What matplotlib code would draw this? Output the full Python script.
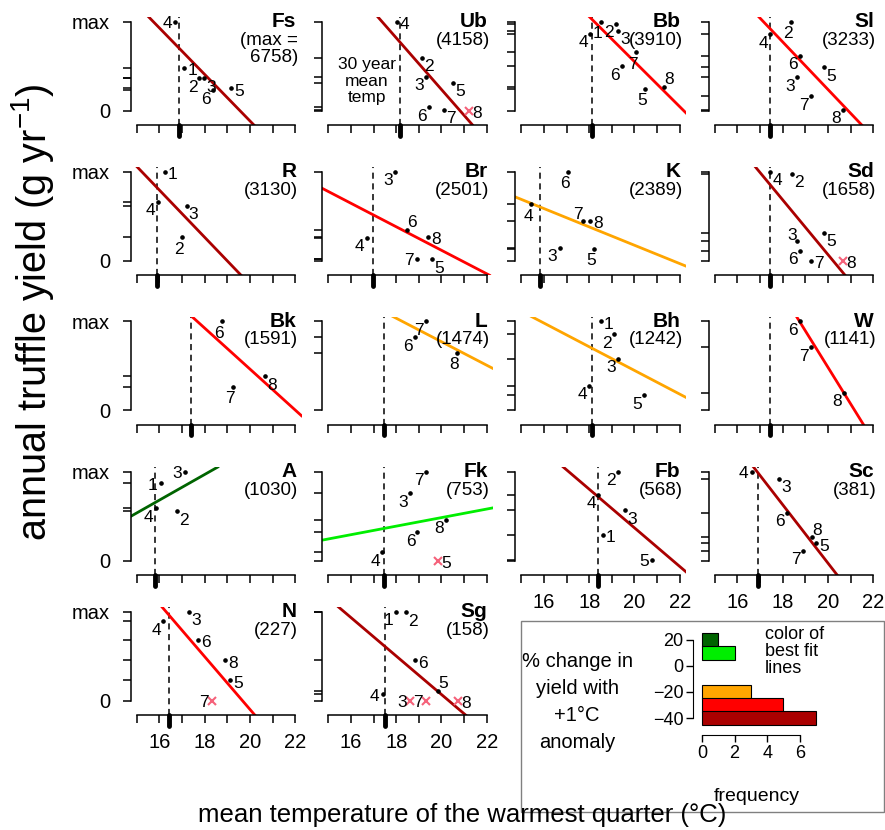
import matplotlib
matplotlib.use("Agg")
import matplotlib.pyplot as plt
from matplotlib.patches import Rectangle

plt.rcParams['font.family'] = ['Liberation Sans', 'DejaVu Sans']
plt.rcParams['mathtext.fontset'] = 'custom'
plt.rcParams['mathtext.rm'] = 'Liberation Sans'
plt.rcParams['mathtext.it'] = 'Liberation Sans:italic'

# panels, read row by row (4 per row)
sites = ['Fs', 'Ub', 'Bb', 'Sl', 'R', 'Br', 'K', 'Sd', 'Bk', 'L', 'Bh', 'W',
         'A', 'Fk', 'Fb', 'Sc', 'N', 'Sg']
site_max = ['(max =\n6758)', '(4158)', '(3910)', '(3233)', '(3130)', '(2501)',
            '(2389)', '(1658)', '(1591)', '(1474)', '(1242)', '(1141)',
            '(1030)', '(753)', '(568)', '(381)', '(227)', '(158)']
mean_temp = [16.87, 18.16, 18.14, 17.44, 15.87, 16.97, 15.84, 17.44, 17.40,
             17.48, 18.14, 17.44, 15.80, 17.48, 18.38, 16.93, 16.40, 17.49]
# best fit line: value at the 30 year mean temp and slope per degree
fit_at_mean = [0.70, 0.77, 1.02, 0.92, 0.825, 0.515, 0.60, 0.853, 1.058,
               1.10, 0.692, 1.53, 0.65, 0.361, 0.719, 0.978, 0.966, 0.61]
fit_slope = [-0.261, -0.29, -0.253, -0.267, -0.265, -0.132, -0.103, -0.307,
             -0.23, -0.132, -0.133, -0.41, 0.144, 0.048, -0.217, -0.328,
             -0.296, -0.216]
# % change class of each fit (+20, +10, -20, -30, -40)
fit_class = [-40, -40, -30, -30, -40, -30, -20, -40, -30, -20, -20, -30,
             20, 10, -40, -40, -30, -40]

# year ids, temperature and relative yield of each point
pt_ids = ['412365', '4235678', '12347685', '2465378', '1432', '368475',
          '647835', '4253678', '687', '768', '12345', '678', '3142',
          '738645', '24315', '436857', '436857', '12654378']
pt_temp = [
    [16.69, 17.09, 17.77, 17.98, 18.35, 19.18],
    [18.02, 19.16, 19.31, 20.50, 19.43, 20.10, 21.24],
    [18.51, 19.18, 19.28, 18.04, 20.07, 19.43, 21.30, 20.47],
    [18.36, 17.44, 18.78, 19.84, 18.63, 19.27, 20.67],
    [16.24, 15.92, 17.20, 16.98],
    [17.95, 18.47, 19.41, 16.69, 18.90, 19.60],
    [17.08, 15.43, 17.72, 18.04, 16.69, 18.20],
    [17.44, 18.39, 19.84, 18.63, 18.78, 19.25, 20.67],
    [18.76, 20.67, 19.24],
    [19.31, 18.84, 20.70],
    [18.51, 19.10, 19.29, 18.00, 20.43],
    [18.78, 19.25, 20.70],
    [17.13, 16.05, 15.83, 16.76],
    [19.31, 18.60, 20.20, 18.94, 17.39, 19.86],
    [19.28, 18.41, 19.57, 18.60, 20.79],
    [16.64, 17.83, 18.20, 19.31, 19.46, 18.90],
    [16.17, 17.32, 17.71, 18.91, 19.13, 18.33],
    [17.98, 18.42, 18.82, 19.85, 17.40, 18.60, 19.30, 20.73],
]
pt_yield = [
    [1.0, 0.48, 0.365, 0.36, 0.23, 0.25],
    [1.0, 0.595, 0.38, 0.313, 0.037, 0.011, 0.0],
    [1.0, 0.975, 0.894, 0.864, 0.652, 0.50, 0.268, 0.243],
    [1.0, 0.857, 0.615, 0.484, 0.372, 0.16, 0.008],
    [1.0, 0.66, 0.617, 0.26],
    [1.0, 0.346, 0.268, 0.257, 0.019, 0.015],
    [1.0, 0.633, 0.447, 0.447, 0.142, 0.13],
    [1.0, 0.975, 0.309, 0.216, 0.112, 0.0, 0.0],
    [1.0, 0.38, 0.26],
    [1.0, 0.82, 0.646],
    [1.0, 0.852, 0.578, 0.27, 0.167],
    [1.0, 0.704, 0.196],
    [1.0, 0.87, 0.585, 0.555],
    [1.0, 0.756, 0.46, 0.316, 0.09, 0.0],
    [1.0, 0.74, 0.567, 0.292, 0.007],
    [1.0, 0.918, 0.536, 0.263, 0.196, 0.11],
    [0.89, 1.0, 0.68, 0.455, 0.23, 0.0],
    [1.0, 0.99, 0.455, 0.11, 0.073, 0.0, 0.0, 0.0],
]
# years left out of the fit (drawn as x)
dropped = {'Ub': '8', 'Sd': '8', 'Fk': '5', 'N': '7', 'Sg': '378'}

# where each point label sits
label_side = [
    ['l', 'r', 'bl', 'br', 'bl', 'r'],
    ['r', 'br', 'bl', 'br', 'bl', 'br', 'r'],
    ['b', 'bl', 'br', 'bl', 'b', 'bl', 'ar', 'b'],
    ['b', 'bl', 'bl', 'br', 'bl', 'bl', 'bl'],
    ['r', 'bl', 'br', 'b'],
    ['bl', 'ar', 'r', 'bl', 'l', 'br'],
    ['b', 'b', 'al', 'r', 'bl', 'b'],
    ['br', 'br', 'br', 'al', 'bl', 'r', 'r'],
    ['b', 'br', 'b'],
    ['bl', 'bl', 'b'],
    ['r', 'bl', 'bl', 'bl', 'bl'],
    ['bl', 'bl', 'bl'],
    ['l', 'l', 'bl', 'br'],
    ['bl', 'bl', 'bl', 'bl', 'bl', 'r'],
    ['bl', 'bl', 'br', 'r', 'l'],
    ['l', 'br', 'bl', 'ar', 'r', 'bl'],
    ['bl', 'br', 'r', 'r', 'r', 'l'],
    ['bl', 'br', 'r', 'ar', 'l', 'l', 'l', 'r'],
]

# histogram of % change classes
hist_class = [20, 10, -20, -30, -40]
hist_freq = [1, 2, 3, 5, 7]

class_color = {20: '#006400', 10: '#00ee00', -20: '#ffa500', -30: '#ff0000',
               -40: '#aa0000'}
offsets = {'r': (8, -3), 'l': (-8, -2), 'bl': (-7, -9), 'br': (7, -9),
           'b': (-3, -12), 'al': (-5, 6), 'ar': (5, 7)}

W, H = 885, 830
fig = plt.figure(figsize=(W / 100, H / 100), dpi=100)

col_left = [130.5, 322, 515, 708.5]
row_max = [21.5, 171.5, 321, 471.5, 611.5]
unit_y = 89.0
y_lo, y_hi = -0.165, 1.05
x_lo, x_hi = 14.72, 22.28
pw = 171

for i, site in enumerate(sites):
    r, c = divmod(i, 4)
    top_px = row_max[r] - (y_hi - 1) * unit_y
    bot_px = row_max[r] + (1 - y_lo) * unit_y
    ax = fig.add_axes([col_left[c] / W, 1 - bot_px / H, pw / W, (bot_px - top_px) / H])
    ax.set_xlim(x_lo, x_hi)
    ax.set_ylim(y_lo, y_hi)
    ax.patch.set_visible(False)
    for s in ['top', 'right']:
        ax.spines[s].set_visible(False)
    ax.spines['left'].set_bounds(0, 1)
    ax.spines['bottom'].set_bounds(15, 22)
    for s in ['left', 'bottom']:
        ax.spines[s].set_linewidth(1.1)

    bottom_panel = (r == 4) or (r == 3 and c >= 2)
    ax.set_xticks(range(15, 23))
    if bottom_panel:
        ax.set_xticklabels(['', '16', '', '18', '', '20', '', '22'])
    else:
        ax.set_xticklabels([''] * 8)
    # rug of the yields, plus the labelled ends 0 and max
    rug = sorted(set(pt_yield[i]) - {0.0, 1.0})
    yt = rug + [0, 1]
    ax.set_yticks(yt)
    if c == 0:
        ax.set_yticklabels([''] * len(rug) + ['0', 'max'])
    else:
        ax.set_yticklabels([''] * len(yt))
    ax.tick_params(direction='out', length=5.8, width=1.1, labelsize=14.5)
    ax.tick_params(axis='x', pad=7)
    ax.tick_params(axis='y', pad=9)

    m = mean_temp[i]
    ax.axvline(m, color='k', ls=(0, (4, 3)), lw=1.1)
    ax.plot([m, m], [0, -0.1], transform=ax.get_xaxis_transform(), color='k',
            lw=3.5, solid_capstyle='round', clip_on=False)
    ax.axline((m, fit_at_mean[i]), slope=fit_slope[i],
              color=class_color[fit_class[i]], lw=2)

    out = dropped.get(site, '')
    for lbl, x, y, side in zip(pt_ids[i], pt_temp[i], pt_yield[i], label_side[i]):
        if lbl in out:
            ax.plot(x, y, marker='x', color='#f5627a', ms=6, mew=1.5, clip_on=False)
        else:
            ax.plot(x, y, 'o', color='k', ms=2.3, clip_on=False)
        ax.annotate(lbl, (x, y), xytext=offsets[side], textcoords='offset pixels',
                    ha='center', va='center', fontsize=12.5)

    ax.annotate(site, (22, 1.0), xytext=(1, 0), textcoords='offset pixels',
                ha='right', va='center', fontsize=15, fontweight='bold')
    ax.annotate(site_max[i], (22, 1.0), xytext=(3, -10), textcoords='offset pixels',
                ha='right', va='top', fontsize=13.5, linespacing=1.0)
    if site == 'Ub':
        ax.text(16.7, 0.33, '30 year\nmean\ntemp', ha='center', va='center',
                fontsize=12.5, linespacing=1.1)

# legend box with histogram of slopes
fig.patches.append(Rectangle((521 / W, 1 - 812 / H), (884 - 521) / W, (812 - 621) / H,
                             transform=fig.transFigure, fill=False,
                             edgecolor='#808080', lw=1))
hx = fig.add_axes([693 / W, 1 - 735 / H, (821 - 693) / W, (735 - 628) / H])
hx.barh(hist_class, hist_freq, height=10.5,
        color=[class_color[k] for k in hist_class], edgecolor='k', lw=0.8)
hx.set_xlim(-0.55, 7.3)
hx.set_ylim(-53, 29)
hx.patch.set_visible(False)
for s in ['top', 'right']:
    hx.spines[s].set_visible(False)
hx.spines['left'].set_bounds(-40, 20)
hx.spines['bottom'].set_bounds(0, 6)
hx.set_xticks([0, 2, 4, 6])
hx.set_yticks([20, 0, -20, -40])
hx.tick_params(direction='out', length=5, width=1, labelsize=13, pad=2)
hx.set_xlabel('frequency', fontsize=14, labelpad=19)

fig.text(577 / W, 1 - 702 / H, '% change in\nyield with\n+1°C\nanomaly',
         ha='center', va='center', fontsize=14.5, linespacing=1.55)
fig.text(765 / W, 1 - 651 / H, 'color of\nbest fit\nlines', ha='left',
         va='center', fontsize=13, linespacing=1.0)

fig.text(33 / W, 1 - 312 / H, 'annual truffle yield (g yr$^{-1}$)', rotation=90,
         ha='center', va='center', fontsize=28.5)
fig.text(462 / W, 1 - 815 / H, 'mean temperature of the warmest quarter (°C)',
         ha='center', va='center', fontsize=18.5)

fig.savefig('out.png', dpi=100)
